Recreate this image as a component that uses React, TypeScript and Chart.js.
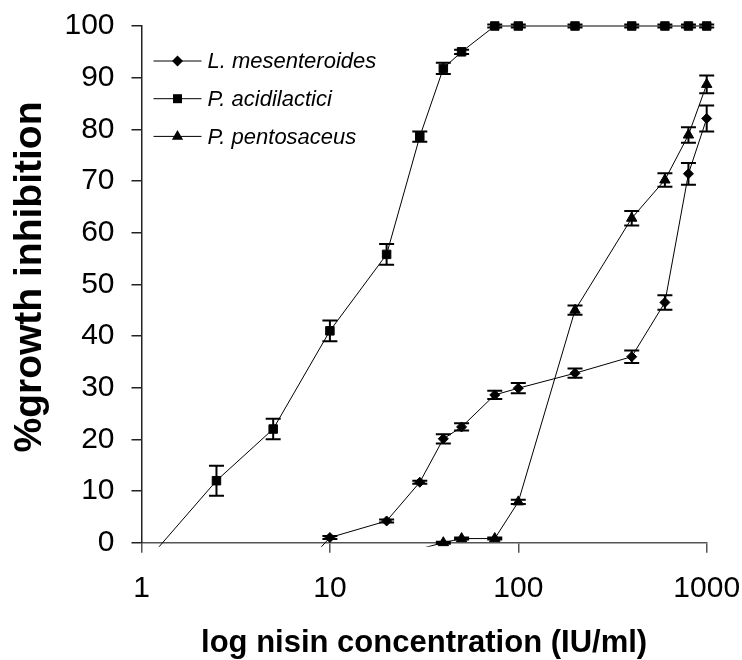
import React, { useEffect, useRef } from 'react';
import { Chart, registerables } from 'chart.js';

Chart.register(...registerables);

// ---- data ----
const seriesNames = ['L. mesenteroides', 'P. acidilactici', 'P. pentosaceus'];

const lmX = [5, 10, 20, 30, 40, 50, 75, 100, 200, 400, 600, 800, 1000];
const lmY = [-11, 1, 4.2, 11.7, 20.1, 22.4, 28.6, 29.9, 32.8, 36.0, 46.5, 71.4, 82.1];
const lmErr = [0, 0.3, 0.3, 0.3, 0.9, 0.7, 0.8, 1.0, 0.9, 1.2, 1.4, 2.1, 2.5];

const paX = [1, 2.5, 5, 10, 20, 30, 40, 50, 75, 100, 200, 400, 600, 800, 1000];
const paY = [-4.7, 12, 22, 41, 55.8, 78.6, 91.8, 95, 100, 100, 100, 100, 100, 100, 100];
const paErr = [0, 2.9, 2, 2, 2, 1.0, 1.1, 0.4, 0.3, 0.3, 0.3, 0.3, 0.3, 0.3, 0.3];

const ppX = [30, 40, 50, 75, 100, 200, 400, 600, 800, 1000];
const ppY = [-1.2, 0, 0.8, 0.8, 7.9, 45, 62.8, 70.2, 78.9, 88.7];
const ppErr = [0, 0.2, 0.2, 0.2, 0.4, 0.9, 1.4, 1.3, 1.5, 1.7];

const xTickValues = [1, 10, 100, 1000];
const xTickLabels = ['1', '10', '100', '1000'];
const yTickValues = [0, 10, 20, 30, 40, 50, 60, 70, 80, 90, 100];

const xTitle = 'log nisin concentration (IU/ml)';
const yTitle = '%growth inhibition';

const FONT = '"Liberation Sans", Arial, sans-serif';

const toPoints = (xs: number[], ys: number[]) => xs.map((x, i) => ({ x, y: ys[i] }));

function drawMarker(ctx: CanvasRenderingContext2D, style: string, cx: number, cy: number) {
  ctx.beginPath();
  if (style === 'rect') {
    ctx.rect(cx - 4.5, cy - 4.5, 9, 9);
  } else if (style === 'rectRot') {
    const r = 5.5;
    ctx.moveTo(cx - r, cy);
    ctx.lineTo(cx, cy - r);
    ctx.lineTo(cx + r, cy);
    ctx.lineTo(cx, cy + r);
    ctx.closePath();
  } else {
    const r = 6.5;
    ctx.moveTo(cx, cy - r);
    ctx.lineTo(cx + 0.866 * r, cy + 0.5 * r);
    ctx.lineTo(cx - 0.866 * r, cy + 0.5 * r);
    ctx.closePath();
  }
  ctx.fill();
}

const errorBarPlugin = {
  id: 'errorBars',
  afterDatasetsDraw(chart: any) {
    const { ctx, chartArea, scales } = chart;
    const xs = scales.x;
    const ys = scales.y;
    ctx.save();
    ctx.beginPath();
    ctx.rect(chartArea.left - 10, chartArea.top - 10, chartArea.right - chartArea.left + 20, chartArea.bottom - chartArea.top + 14);
    ctx.clip();
    ctx.strokeStyle = '#000';
    ctx.lineWidth = 2;
    chart.data.datasets.forEach((ds: any) => {
      ds.data.forEach((p: any, i: number) => {
        const e = ds.errors[i];
        if (!e || p.y < 0) return;
        const px = xs.getPixelForValue(p.x);
        const yt = ys.getPixelForValue(p.y + e);
        const yb = ys.getPixelForValue(p.y - e);
        ctx.beginPath();
        ctx.moveTo(px, yt);
        ctx.lineTo(px, yb);
        ctx.moveTo(px - 7.5, yt);
        ctx.lineTo(px + 7.5, yt);
        ctx.moveTo(px - 7.5, yb);
        ctx.lineTo(px + 7.5, yb);
        ctx.stroke();
      });
    });
    ctx.restore();
  },
};

const decorPlugin = {
  id: 'decor',
  afterDraw(chart: any) {
    const { ctx, chartArea } = chart;
    ctx.save();
    // legend
    const styles = ['rectRot', 'rect', 'triangle'];
    const lx = chartArea.left + 12;
    const ly = chartArea.top + 35;
    chart.data.datasets.forEach((ds: any, i: number) => {
      const cy = ly + i * 37.7;
      ctx.strokeStyle = '#000';
      ctx.lineWidth = 1;
      ctx.beginPath();
      ctx.moveTo(lx, cy);
      ctx.lineTo(lx + 48, cy);
      ctx.stroke();
      ctx.fillStyle = '#000';
      drawMarker(ctx, styles[i], lx + 24, cy);
      ctx.font = `italic 22px ${FONT}`;
      ctx.textAlign = 'left';
      ctx.textBaseline = 'middle';
      ctx.fillText(ds.label, lx + 54, cy + 1);
    });
    // axis titles
    ctx.fillStyle = '#000';
    ctx.font = `bold 31px ${FONT}`;
    ctx.textAlign = 'center';
    ctx.textBaseline = 'alphabetic';
    ctx.fillText(xTitle, (chartArea.left + chartArea.right) / 2, 652);
    ctx.font = `bold 39px ${FONT}`;
    ctx.translate(41, 277);
    ctx.rotate(-Math.PI / 2);
    ctx.fillText(yTitle, 0, 0);
    ctx.restore();
  },
};

export default function App() {
  const ref = useRef<HTMLCanvasElement | null>(null);

  useEffect(() => {
    if (!ref.current) return;
    const common = {
      borderColor: '#000',
      borderWidth: 1,
      backgroundColor: '#000',
      pointBackgroundColor: '#000',
      pointBorderColor: '#000',
      pointBorderWidth: 1,
      tension: 0,
      clip: { left: 0, top: 10, right: 10, bottom: 4 },
    };
    const radius = (r: number) => (c: any) => (c.raw && c.raw.y < 0 ? 0 : r);
    const chart = new Chart(ref.current, {
      type: 'line',
      data: {
        datasets: [
          { ...common, label: seriesNames[0], data: toPoints(lmX, lmY), errors: lmErr, pointStyle: 'rectRot', pointRadius: radius(5), } as any,
          { ...common, label: seriesNames[1], data: toPoints(paX, paY), errors: paErr, pointStyle: 'rect', pointRadius: radius(6), } as any,
          { ...common, label: seriesNames[2], data: toPoints(ppX, ppY), errors: ppErr, pointStyle: 'triangle', pointRadius: radius(6), } as any,
        ],
      },
      options: {
        responsive: false,
        maintainAspectRatio: false,
        animation: false,
        devicePixelRatio: 1,
        layout: { padding: { top: 26, right: 35.3, left: 0, bottom: 0 } },
        plugins: { legend: { display: false }, tooltip: { enabled: false }, title: { display: false } },
        scales: {
          x: {
            type: 'logarithmic',
            position: 'bottom',
            min: 1,
            max: 1000,
            afterBuildTicks: (s: any) => {
              s.ticks = xTickValues.map((v) => ({ value: v }));
            },
            afterFit: (s: any) => {
              s.height = 117.3;
              s.paddingLeft = 0;
              s.paddingRight = 0;
            },
            ticks: {
              autoSkip: false,
              maxRotation: 0,
              color: '#000',
              padding: 18,
              font: { size: 30, family: FONT },
              callback: (_v: any, i: number) => xTickLabels[i],
            },
            grid: { drawOnChartArea: false, drawTicks: true, tickLength: 10, color: '#555', lineWidth: 1.5 },
            border: { display: true, color: '#555', width: 1.5 },
          },
          y: {
            type: 'linear',
            position: 'left',
            min: 0,
            max: 100,
            afterBuildTicks: (s: any) => {
              s.ticks = yTickValues.map((v) => ({ value: v }));
            },
            afterFit: (s: any) => {
              s.width = 141.5;
              s.paddingTop = 0;
              s.paddingBottom = 0;
            },
            ticks: {
              color: '#000',
              padding: 17,
              font: { size: 30, family: FONT },
              callback: (v: any) => String(v),
            },
            grid: { drawOnChartArea: false, drawTicks: true, tickLength: 10, color: '#222', lineWidth: 1.5 },
            border: { display: true, color: '#222', width: 1.5 },
          },
        },
      } as any,
      plugins: [errorBarPlugin, decorPlugin],
    });
    return () => chart.destroy();
  }, []);

  return (
    <div style={{ position: 'absolute', left: 0, top: 0, width: 742, height: 660, background: '#fff' }}>
      <canvas ref={ref} width={742} height={660} style={{ display: 'block' }} />
    </div>
  );
}
